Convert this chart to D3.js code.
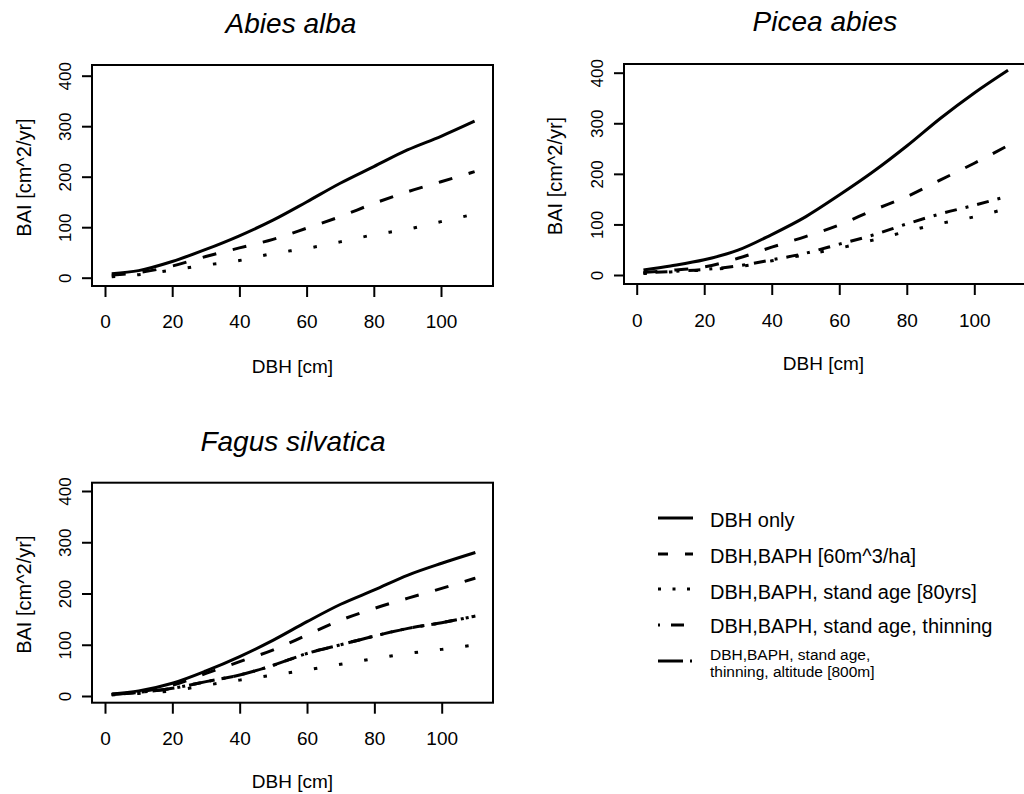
<!DOCTYPE html>
<html lang="en">

<head>
    <meta charset="UTF-8">
    <title>BAI vs DBH</title>
    <script src="https://d3js.org/d3.v7.min.js"></script>
    <style>
        body {
            margin: 0;
            padding: 0;
            background: #fff;
            font-family: "Liberation Sans", Arial, sans-serif;
        }

        svg text {
            fill: #000;
        }
    </style>
</head>

<body>
    <div id="chart"></div>

    <script>
        // DBH grid (cm) the curves were read at
        const dbh = [2, 10, 20, 30, 40, 50, 60, 70, 80, 90, 100, 110];
        const xTicks = [0, 20, 40, 60, 80, 100];
        const yTicks = [0, 100, 200, 300, 400];

        const seriesNames = [
            "DBH only",
            "DBH,BAPH [60m^3/ha]",
            "DBH,BAPH, stand age [80yrs]",
            "DBH,BAPH, stand age, thinning",
            "DBH,BAPH, stand age,|thinning, altitude [800m]"
        ];

        // BAI values [cm^2/yr]
        const abiesDbhOnly = [8, 14, 32, 56, 83, 114, 150, 187, 220, 253, 280, 310];
        const abiesBaph = [5, 10, 23, 42, 59, 76, 98, 121, 147, 170, 190, 210];
        const abiesAge = [2, 6, 15, 25, 34, 48, 58, 71, 85, 96, 111, 126];

        const piceaDbhOnly = [10, 18, 30, 49, 80, 115, 158, 204, 255, 310, 360, 405];
        const piceaBaph = [5, 9, 16, 33, 55, 76, 99, 128, 155, 188, 221, 256];
        const piceaAge = [3, 6, 10, 16, 28, 40, 53, 69, 86, 102, 115, 132];
        const piceaThinning = [4, 7, 11, 18, 30, 43, 61, 79, 101, 121, 138, 156];

        const fagusDbhOnly = [4, 10, 25, 49, 77, 109, 145, 179, 207, 236, 259, 280];
        const fagusBaph = [3, 8, 21, 44, 67, 90, 119, 148, 171, 191, 210, 230];
        const fagusAge = [2, 5, 10, 21, 31, 41, 51, 62, 73, 83, 91, 100];
        const fagusThinning = [3, 7, 15, 28, 41, 60, 83, 100, 117, 132, 143, 156];
        const fagusAltitude = [3, 7, 15, 28, 41, 60, 83, 100, 117, 132, 143, 156];

        // line styles, index matches seriesNames
        const plotDash = [null, "14,17", "3.5,22", "3,9,12,9", "22,8,3,8"];
        const legendDash = [null, "10,17", "3,11.5", "2,11,13,30", "25,7,2,20"];

        const panels = [
            {
                title: "Abies alba",
                box: { left: 92, right: 493, top: 65, bottom: 286 },
                x0: 105, x100: 441, y0: 277.7, y400: 75.7,
                titleX: 291, titleY: 33, yTickX: 71, yTitleX: 31, xTickY: 328, xTitleY: 373,
                series: [abiesDbhOnly, abiesBaph, abiesAge]
            },
            {
                title: "Picea abies",
                box: { left: 624, right: 1027, top: 64, bottom: 284 },
                x0: 636.7, x100: 974.3, y0: 275, y400: 72.7,
                titleX: 825, titleY: 31, yTickX: 603, yTitleX: 562, xTickY: 327, xTitleY: 370,
                series: [piceaDbhOnly, piceaBaph, piceaAge, piceaThinning]
            },
            {
                title: "Fagus silvatica",
                box: { left: 92, right: 493, top: 482.7, bottom: 702.7 },
                x0: 105, x100: 441.7, y0: 696, y400: 491,
                titleX: 293, titleY: 451, yTickX: 71, yTitleX: 31, xTickY: 745, xTitleY: 788,
                series: [fagusDbhOnly, fagusBaph, fagusAge, fagusThinning, fagusAltitude]
            }
        ];

        const svg = d3.select("#chart")
            .append("svg")
            .attr("width", 1024)
            .attr("height", 794);

        panels.forEach(function (p) {
            const g = svg.append("g");

            const x = d3.scaleLinear().domain([0, 100]).range([p.x0, p.x100]);
            const y = d3.scaleLinear().domain([0, 400]).range([p.y0, p.y400]);

            // title
            g.append("text")
                .attr("x", p.titleX)
                .attr("y", p.titleY)
                .attr("text-anchor", "middle")
                .style("font-size", "28px")
                .style("font-style", "italic")
                .text(p.title);

            // box
            g.append("rect")
                .attr("x", p.box.left)
                .attr("y", p.box.top)
                .attr("width", p.box.right - p.box.left)
                .attr("height", p.box.bottom - p.box.top)
                .attr("fill", "none")
                .attr("stroke", "#000")
                .attr("stroke-width", 2);

            // x axis
            const xAxis = g.append("g")
                .attr("transform", `translate(0,${p.box.bottom})`)
                .call(d3.axisBottom(x).tickValues(xTicks).tickSize(11).tickSizeOuter(0).tickPadding(0));
            xAxis.select(".domain").remove();
            xAxis.selectAll("line").attr("stroke-width", 2);
            xAxis.selectAll("text")
                .attr("y", p.xTickY - p.box.bottom)
                .attr("dy", null)
                .style("font-size", "19px")
                .style("font-family", "'Liberation Sans', Arial, sans-serif");

            // y axis (labels rotated like R's las=0)
            const yAxis = g.append("g")
                .attr("transform", `translate(${p.box.left},0)`)
                .call(d3.axisLeft(y).tickValues(yTicks).tickSize(10).tickSizeOuter(0));
            yAxis.select(".domain").remove();
            yAxis.selectAll("line").attr("stroke-width", 2);
            yAxis.selectAll("text").remove();
            yAxis.selectAll(".tick")
                .append("text")
                .attr("transform", `translate(${p.yTickX - p.box.left},0) rotate(-90)`)
                .attr("text-anchor", "middle")
                .attr("fill", "#000")
                .style("font-size", "17px")
                .style("font-family", "'Liberation Sans', Arial, sans-serif")
                .text(d => d);

            // axis titles
            g.append("text")
                .attr("x", (p.box.left + p.box.right) / 2 + (p.box.right > 1000 ? -2 : 0))
                .attr("y", p.xTitleY)
                .attr("text-anchor", "middle")
                .style("font-size", "19px")
                .text("DBH [cm]");

            g.append("text")
                .attr("transform", `translate(${p.yTitleX},${(p.box.top + p.box.bottom) / 2 + 2}) rotate(-90)`)
                .attr("text-anchor", "middle")
                .style("font-size", "20px")
                .text("BAI [cm^2/yr]");

            // curves
            const line = d3.line()
                .x((d, i) => x(dbh[i]))
                .y(d => y(d))
                .curve(d3.curveMonotoneX);

            p.series.forEach(function (vals, k) {
                g.append("path")
                    .datum(vals)
                    .attr("d", line)
                    .attr("fill", "none")
                    .attr("stroke", "#000")
                    .attr("stroke-width", 3)
                    .attr("stroke-dasharray", plotDash[k]);
            });
        });

        // legend
        const legend = svg.append("g");
        const legendRows = [518, 554, 589, 625, 661];
        const legendBase = [527, 563, 599, 633];

        seriesNames.forEach(function (name, k) {
            legend.append("line")
                .attr("x1", 658)
                .attr("x2", 693)
                .attr("y1", legendRows[k])
                .attr("y2", legendRows[k])
                .attr("stroke", "#000")
                .attr("stroke-width", 3)
                .attr("stroke-dasharray", legendDash[k]);

            if (k < 4) {
                legend.append("text")
                    .attr("x", 710)
                    .attr("y", legendBase[k])
                    .style("font-size", "20px")
                    .text(name);
            } else {
                name.split("|").forEach(function (part, j) {
                    legend.append("text")
                        .attr("x", 710)
                        .attr("y", 660 + j * 17)
                        .style("font-size", "15.5px")
                        .text(part);
                });
            }
        });
    </script>
</body>

</html>
